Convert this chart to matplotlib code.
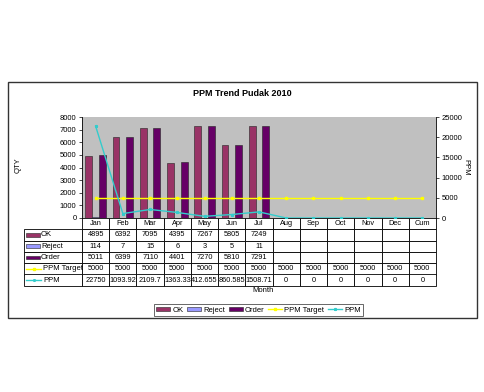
import matplotlib
matplotlib.use("Agg")
import matplotlib.pyplot as plt
from matplotlib.patches import Rectangle
from matplotlib.lines import Line2D
from matplotlib.table import Table
import numpy as np

plt.rcParams['font.family'] = ['Liberation Sans', 'DejaVu Sans']

months = ["Jan", "Feb", "Mar", "Apr", "May", "Jun", "Jul", "Aug", "Sep", "Oct", "Nov", "Dec", "Cum"]
ok = [4895, 6392, 7095, 4395, 7267, 5805, 7249]
reject = [114, 7, 15, 6, 3, 5, 11]
order = [5011, 6399, 7110, 4401, 7270, 5810, 7291]
ppm_target = [5000] * 13
ppm = [22750, 1093.92, 2109.7, 1363.33, 412.655, 860.585, 1508.71, 0, 0, 0, 0, 0, 0]
ppm_text = ["22750", "1093.92", "2109.7", "1363.33", "412.655", "860.585", "1508.71", "0", "0", "0", "0", "0", "0"]

C_OK = "#993366"
C_REJ = "#9999FF"
C_ORD = "#660066"
C_TGT = "#FFFF00"
C_PPM = "#33CCCC"

W, H = 485, 392
fig = plt.figure(figsize=(W / 100, H / 100), dpi=100)

def fx(px):
    return px / W

def fy(py):
    return 1 - py / H

# outer chart border
fig.patches.append(Rectangle((fx(8), fy(318)), fx(477) - fx(8), fy(82) - fy(318),
                             transform=fig.transFigure, fill=False, edgecolor="#333333", lw=1.0))

ax = fig.add_axes([fx(82), fy(218), fx(436) - fx(82), fy(117) - fy(218)])
ax.set_facecolor("#C0C0C0")
n = len(months)
x = np.arange(n)
bw = 0.25
xo = np.arange(len(ok))
ax.bar(xo - bw, ok, bw, color=C_OK, edgecolor="#222222", lw=0.4, label="OK", zorder=2)
ax.bar(xo, reject, bw, color=C_REJ, edgecolor="#222222", lw=0.4, label="Reject", zorder=2)
ax.bar(xo + bw, order, bw, color=C_ORD, edgecolor="#222222", lw=0.4, label="Order", zorder=2)
ax.set_xlim(-0.5, n - 0.5)
ax.set_ylim(0, 8000)
ax.set_yticks(range(0, 8001, 1000))
ax.set_xticks([])
ax.tick_params(axis="y", labelsize=5.5, length=2, width=0.5, pad=2)
for s in ["top", "bottom"]:
    ax.spines[s].set_visible(False)
ax.spines["left"].set_linewidth(0.6)
ax.spines["right"].set_visible(False)

ax2 = ax.twinx()
ax2.set_ylim(0, 25000)
ax2.set_yticks(range(0, 25001, 5000))
ax2.tick_params(axis="y", labelsize=5.5, length=2, width=0.5, pad=2)
for s in ["top", "bottom", "left"]:
    ax2.spines[s].set_visible(False)
ax2.spines["right"].set_linewidth(0.6)
ax2.plot(x, ppm_target, color=C_TGT, lw=1.0, marker="s", ms=1.8, label="PPM Target", zorder=3)
ax2.plot(x, ppm, color=C_PPM, lw=1.0, marker="*", ms=2.0, label="PPM", zorder=3)

# data table
label_w = 58.0
col_w = (436 - 82) / n
row_h = 11.3
rows_data = [
    ("OK", [str(v) for v in ok] + [""] * (n - len(ok))),
    ("Reject", [str(v) for v in reject] + [""] * (n - len(reject))),
    ("Order", [str(v) for v in order] + [""] * (n - len(order))),
    ("PPM Target", [str(v) for v in ppm_target]),
    ("PPM", ppm_text),
]
total_w = label_w + col_w * n
total_h = row_h * (len(rows_data) + 1)
ax_w_px = 436 - 82
ax_h_px = 218 - 117
tbl = Table(ax, bbox=[-label_w / ax_w_px, -total_h / ax_h_px, total_w / ax_w_px, total_h / ax_h_px])
for j, m in enumerate(months):
    c = tbl.add_cell(0, j + 1, width=col_w, height=row_h, text=m, loc="center")
    c.set_linewidth(0.6)
for i, (lab, vals) in enumerate(rows_data):
    c = tbl.add_cell(i + 1, 0, width=label_w, height=row_h, text="", loc="left")
    c.set_linewidth(0.6)
    for j, v in enumerate(vals):
        c = tbl.add_cell(i + 1, j + 1, width=col_w, height=row_h, text=v, loc="center")
        c.set_linewidth(0.6)
tbl.auto_set_font_size(False)
tbl.set_fontsize(5.3)
ax.add_table(tbl)

# row labels with legend keys
key_styles = [("patch", C_OK), ("patch", C_REJ), ("patch", C_ORD), ("line", C_TGT), ("line", C_PPM)]
for i, (lab, _) in enumerate(rows_data):
    yc = 218 + row_h * (i + 1) + row_h / 2
    kind, col = key_styles[i]
    if kind == "patch":
        fig.patches.append(Rectangle((fx(26), fy(yc + 1.8)), fx(40) - fx(26), fy(yc - 1.8) - fy(yc + 1.8),
                                     transform=fig.transFigure, facecolor=col, edgecolor="#222222", lw=0.4))
        fig.text(fx(41), fy(yc), lab, fontsize=5.5, va="center", ha="left")
    else:
        mk = "s" if i == 3 else "*"
        fig.lines.append(Line2D([fx(26), fx(41)], [fy(yc), fy(yc)], transform=fig.transFigure,
                                color=col, lw=1.0))
        fig.lines.append(Line2D([fx(33.5)], [fy(yc)], transform=fig.transFigure,
                                color=col, marker=mk, ms=1.8))
        fig.text(fx(43), fy(yc), lab, fontsize=5.5, va="center", ha="left")

fig.text(fx(242), fy(94), "PPM Trend Pudak 2010", fontsize=6.5, fontweight="bold", ha="center", va="center")
fig.text(fx(18), fy(165), "QTY", fontsize=5.5, rotation=90, ha="center", va="center")
fig.text(fx(466), fy(167), "PPM", fontsize=5.5, rotation=270, ha="center", va="center")
fig.text(fx(263), fy(291), "Month", fontsize=5.5, ha="center", va="center")

h1, l1 = ax.get_legend_handles_labels()
h2, l2 = ax2.get_legend_handles_labels()
leg = fig.legend(h1 + h2, l1 + l2, loc="center", bbox_to_anchor=(fx(258.5), fy(310)), ncol=5,
                 fontsize=5.5, frameon=True, fancybox=False, shadow=False, handlelength=1.8,
                 handleheight=0.5, handletextpad=0.3, columnspacing=0.5, borderpad=0.3)
leg.get_frame().set_edgecolor("#222222")
leg.get_frame().set_linewidth(0.6)

fig.savefig("out.png", dpi=100)
